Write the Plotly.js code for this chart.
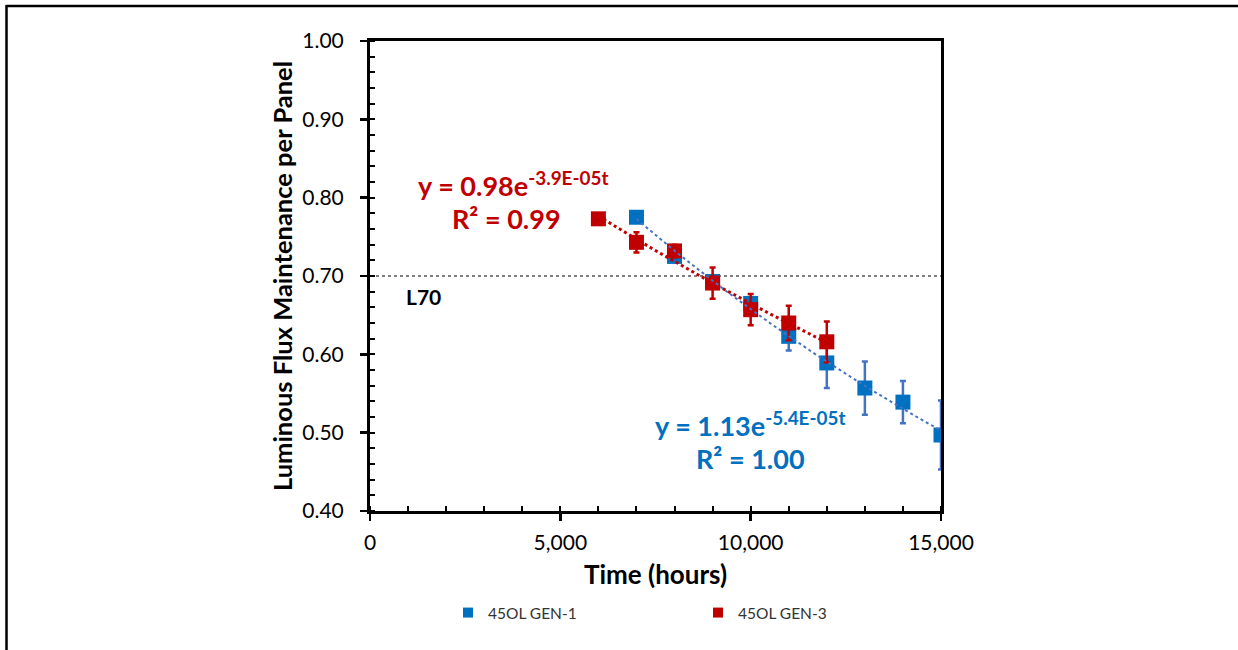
<!DOCTYPE html>
<html>
<head>
<meta charset="utf-8">
<script src="https://cdn.plot.ly/plotly-3.0.1.min.js"></script>
<style>
html,body{margin:0;padding:0;background:#fff;}
#chart{width:1238px;height:650px;}
</style>
</head>
<body>
<div id="chart"></div>
<script>
// ---- Data ----
const gen1Hours = [7000, 8000, 9000, 10000, 11000, 12000, 13000, 14000, 15000];
const gen1Flux  = [0.775, 0.725, 0.693, 0.665, 0.623, 0.589, 0.557, 0.539, 0.497];
const gen1Err   = [0.006, 0.006, 0.006, 0.008, 0.018, 0.032, 0.034, 0.027, 0.044];

const gen3Hours = [6000, 7000, 8000, 9000, 10000, 11000, 12000];
const gen3Flux  = [0.773, 0.743, 0.732, 0.691, 0.657, 0.640, 0.616];
const gen3Err   = [0.004, 0.013, 0.008, 0.020, 0.020, 0.022, 0.026];

const seriesNames = ["45OL GEN-1", "45OL GEN-3"];
const gen1EqText = ["y = 1.13e<sup>-5.4E-05t</sup>", "R² = 1.00"];
const gen3EqText = ["y = 0.98e<sup>-3.9E-05t</sup>", "R² = 0.99"];
const l70Value = 0.70;
const l70Label = "L70";

// ---- Exponential (log-linear) least squares fit, as in Excel trendline ----
function expFit(xs, ys) {
  const n = xs.length;
  const ly = ys.map(Math.log);
  const mx = xs.reduce((a, b) => a + b, 0) / n;
  const my = ly.reduce((a, b) => a + b, 0) / n;
  let sxx = 0, sxy = 0;
  for (let i = 0; i < n; i++) { sxx += (xs[i] - mx) ** 2; sxy += (xs[i] - mx) * (ly[i] - my); }
  const b = sxy / sxx;
  const a = Math.exp(my - b * mx);
  return { a, b };
}
function fitCurve(xs, ys) {
  const f = expFit(xs, ys);
  const x0 = Math.min(...xs), x1 = Math.max(...xs);
  const steps = 60, cx = [], cy = [];
  for (let i = 0; i <= steps; i++) {
    const x = x0 + (x1 - x0) * i / steps;
    cx.push(x); cy.push(f.a * Math.exp(f.b * x));
  }
  return { cx, cy };
}
const fit1 = fitCurve(gen1Hours, gen1Flux);
const fit3 = fitCurve(gen3Hours, gen3Flux);

const BLUE = "#0070C0", BLUE_ERR = "#4472C4", RED = "#C00000";
const FONT = "Lato, 'Open Sans', sans-serif";

const traces = [
  {
    x: gen1Hours, y: gen1Flux, type: "scatter", mode: "markers", showlegend: false,
    marker: { symbol: "square", size: 15, color: BLUE },
    error_y: { type: "data", array: gen1Err, visible: true, color: BLUE_ERR, thickness: 2.5, width: 3 }
  },
  {
    x: gen3Hours, y: gen3Flux, type: "scatter", mode: "markers", showlegend: false,
    marker: { symbol: "square", size: 15, color: RED },
    error_y: { type: "data", array: gen3Err, visible: true, color: RED, thickness: 2.5, width: 3 }
  },
  {
    x: fit3.cx, y: fit3.cy, type: "scatter", mode: "lines", showlegend: false, hoverinfo: "skip",
    line: { color: RED, width: 3, dash: "dot" }
  },
  {
    x: fit1.cx, y: fit1.cy, type: "scatter", mode: "lines", showlegend: false, hoverinfo: "skip",
    line: { color: BLUE_ERR, width: 2, dash: "dot" }
  },
  // legend-only entries
  { x: [null], y: [null], type: "scatter", mode: "markers", name: seriesNames[0],
    marker: { symbol: "square", size: 10, color: BLUE } },
  { x: [null], y: [null], type: "scatter", mode: "markers", name: seriesNames[1],
    marker: { symbol: "square", size: 10, color: RED } }
];

const plotL = 370, plotR = 941, plotT = 41, plotB = 511;
const W = 1238, H = 650;
const pw = plotR - plotL, ph = plotB - plotT;
const px = v => (v - plotL) / pw;
const py = v => (plotB - v) / ph;

const annFont = c => ({ size: 27, family: FONT, color: c });

const layout = {
  width: W, height: H,
  margin: { l: plotL, r: W - plotR, t: plotT, b: H - plotB, pad: 0 },
  paper_bgcolor: "#fff", plot_bgcolor: "#fff",
  font: { family: FONT, color: "#000" },
  showlegend: true,
  legend: {
    orientation: "h", x: px(448), xanchor: "left", y: py(613), yanchor: "middle",
    font: { size: 15.5, color: "#333", family: FONT },
    entrywidth: 205, itemwidth: 30, bgcolor: "rgba(0,0,0,0)"
  },
  xaxis: {
    range: [0, 15000], tickvals: [0, 5000, 10000, 15000], tickformat: ",d",
    showgrid: false, zeroline: false,
    showline: true, linecolor: "#000", linewidth: 3, mirror: true,
    ticks: "outside", ticklen: 7, tickwidth: 2.5, tickcolor: "#000",
    ticklabelstandoff: 4,
    minor: { dtick: 1000, ticks: "inside", ticklen: 5, tickwidth: 2, tickcolor: "#000" },
    tickfont: { size: 21, family: FONT, color: "#000" },
    title: { text: "<b>Time (hours)</b>", font: { size: 26, family: FONT, color: "#000" }, standoff: 13 }
  },
  yaxis: {
    range: [0.40, 1.00], dtick: 0.1, tick0: 0.4, tickformat: ".2f",
    showgrid: false, zeroline: false,
    showline: true, linecolor: "#000", linewidth: 3, mirror: true,
    ticks: "outside", ticklen: 7, tickwidth: 2.5, tickcolor: "#000",
    ticklabelstandoff: 12,
    minor: { dtick: 0.02, ticks: "inside", ticklen: 5, tickwidth: 2, tickcolor: "#000" },
    tickfont: { size: 21, family: FONT, color: "#000" },
    title: { text: "<b>Luminous Flux Maintenance per Panel</b>", font: { size: 25.5, family: FONT, color: "#000" }, standoff: 3 }
  },
  shapes: [
    { type: "line", xref: "paper", yref: "y", x0: 0, x1: 1, y0: l70Value, y1: l70Value,
      line: { color: "#000", width: 1, dash: "dot" }, layer: "below" },
    // outer frame (top and left edges)
    { type: "line", xref: "paper", yref: "paper", x0: px(6), x1: px(1240), y0: py(6), y1: py(6),
      line: { color: "#000", width: 2.5 } },
    { type: "line", xref: "paper", yref: "paper", x0: px(6.5), x1: px(6.5), y0: py(5), y1: py(652),
      line: { color: "#000", width: 2.5 } }
  ],
  annotations: [
    { xref: "x", yref: "y", x: 1400, y: 0.674, text: "<b>" + l70Label + "</b>", showarrow: false,
      xanchor: "center", yanchor: "middle", font: { size: 21, family: FONT, color: "#000" } },
    { xref: "paper", yref: "paper", x: px(513), y: py(184), text: "<b>" + gen3EqText[0] + "</b>", showarrow: false,
      xanchor: "center", yanchor: "middle", font: annFont(RED) },
    { xref: "paper", yref: "paper", x: px(506), y: py(218), text: "<b>" + gen3EqText[1] + "</b>", showarrow: false,
      xanchor: "center", yanchor: "middle", font: annFont(RED) },
    { xref: "paper", yref: "paper", x: px(750), y: py(424), text: "<b>" + gen1EqText[0] + "</b>", showarrow: false,
      xanchor: "center", yanchor: "middle", font: annFont(BLUE) },
    { xref: "paper", yref: "paper", x: px(750), y: py(458), text: "<b>" + gen1EqText[1] + "</b>", showarrow: false,
      xanchor: "center", yanchor: "middle", font: annFont(BLUE) }
  ]
};

Plotly.newPlot("chart", traces, layout, { displayModeBar: false, staticPlot: true });
</script>
</body>
</html>
